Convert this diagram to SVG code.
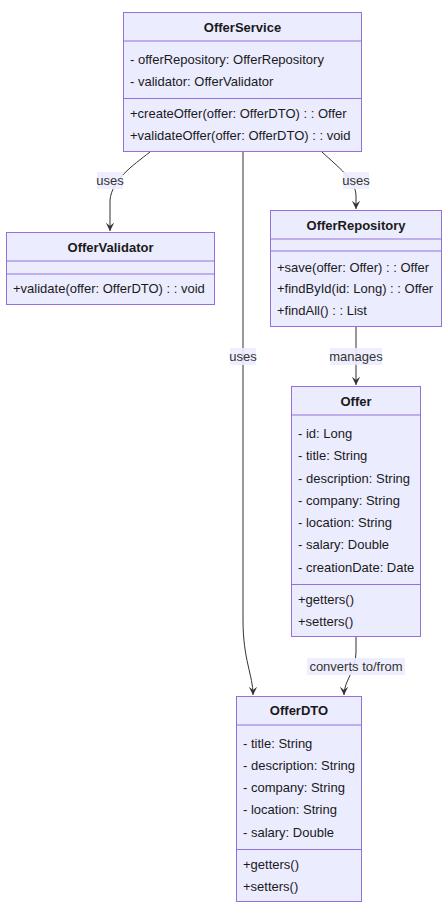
<svg xmlns="http://www.w3.org/2000/svg" width="447" height="909" viewBox="0 0 447 909">
<style>
.box{fill:#ECECFF;stroke:#9370DB;stroke-width:1}
.div{stroke:#9370DB;stroke-width:1}
.t{font-family:"Liberation Sans",Arial,sans-serif;font-size:13px;fill:#1a1a1a}
.title{font-weight:bold;text-anchor:middle}
.edge{fill:none;stroke:#333;stroke-width:1}
.lbg{fill:#ECECFF;opacity:0.9}
.lt{font-family:"Liberation Sans",Arial,sans-serif;font-size:13px;fill:#333;text-anchor:middle}
</style>
<defs>
<marker id="arr" viewBox="0 0 12 12" refX="11" refY="6" markerWidth="10" markerHeight="10" markerUnits="userSpaceOnUse" orient="auto">
<path d="M1,1 L11,6 L1,11 L5,6 Z" fill="#333"/>
</marker>
</defs>
<rect width="447" height="909" fill="#fff"/>
<g id="connectors">
<path class="edge" d="M150,152 C132,166 112,180 110,200 L110,231" marker-end="url(#arr)"/>
<path class="edge" d="M322,152 C338,167 356,180 356,196 L356,209" marker-end="url(#arr)"/>
<path class="edge" d="M243,152 L243,620 C243,660 253,675 253,695" marker-end="url(#arr)"/>
<path class="edge" d="M356,327 L356,385" marker-end="url(#arr)"/>
<path class="edge" d="M356,637 L356,652 C356,672 344,680 344,695" marker-end="url(#arr)"/>
<rect class="lbg" x="97" y="172" width="26" height="17"/>
<text class="lt" x="110" y="185">uses</text>
<rect class="lbg" x="343" y="172" width="26" height="17"/>
<text class="lt" x="356" y="185">uses</text>
<rect class="lbg" x="230" y="348" width="26" height="17"/>
<text class="lt" x="243" y="361">uses</text>
<rect class="lbg" x="330" y="348" width="52" height="17"/>
<text class="lt" x="356" y="361">manages</text>
<rect class="lbg" x="307" y="658" width="98" height="17"/>
<text class="lt" x="356" y="671">converts to/from</text>
</g>
<g id="OfferService">
<rect class="box" x="123.5" y="12.5" width="238" height="139"/>
<line class="div" x1="123.5" y1="41" x2="361.5" y2="41"/>
<line class="div" x1="123.5" y1="98.5" x2="361.5" y2="98.5"/>
<text class="t title" x="242.5" y="32">OfferService</text>
<text class="t" x="130" y="64">- offerRepository: OfferRepository</text>
<text class="t" x="130" y="86">- validator: OfferValidator</text>
<text class="t" x="130" y="118">+createOffer(offer: OfferDTO) : : Offer</text>
<text class="t" x="130" y="140">+validateOffer(offer: OfferDTO) : : void</text>
</g>
<g id="OfferValidator">
<rect class="box" x="6.5" y="232.5" width="208" height="72"/>
<line class="div" x1="6.5" y1="261" x2="214.5" y2="261"/>
<line class="div" x1="6.5" y1="274" x2="214.5" y2="274"/>
<text class="t title" x="110.5" y="252">OfferValidator</text>
<text class="t" x="13" y="293">+validate(offer: OfferDTO) : : void</text>
</g>
<g id="OfferRepository">
<rect class="box" x="270.5" y="210.5" width="171" height="116"/>
<line class="div" x1="270.5" y1="239" x2="441.5" y2="239"/>
<line class="div" x1="270.5" y1="251" x2="441.5" y2="251"/>
<text class="t title" x="356" y="230">OfferRepository</text>
<text class="t" x="277" y="272">+save(offer: Offer) : : Offer</text>
<text class="t" x="277" y="293">+findById(id: Long) : : Offer</text>
<text class="t" x="277" y="315">+findAll() : : List</text>
</g>
<g id="Offer">
<rect class="box" x="291.5" y="386.5" width="129" height="250"/>
<line class="div" x1="291.5" y1="415" x2="420.5" y2="415"/>
<line class="div" x1="291.5" y1="584.5" x2="420.5" y2="584.5"/>
<text class="t title" x="356" y="406">Offer</text>
<text class="t" x="298" y="438">- id: Long</text>
<text class="t" x="298" y="460">- title: String</text>
<text class="t" x="298" y="483">- description: String</text>
<text class="t" x="298" y="505">- company: String</text>
<text class="t" x="298" y="527">- location: String</text>
<text class="t" x="298" y="549">- salary: Double</text>
<text class="t" x="298" y="572">- creationDate: Date</text>
<text class="t" x="298" y="604">+getters()</text>
<text class="t" x="298" y="626">+setters()</text>
</g>
<g id="OfferDTO">
<rect class="box" x="236.5" y="696.5" width="125" height="205"/>
<line class="div" x1="236.5" y1="725" x2="361.5" y2="725"/>
<line class="div" x1="236.5" y1="849.5" x2="361.5" y2="849.5"/>
<text class="t title" x="299" y="715">OfferDTO</text>
<text class="t" x="243" y="748">- title: String</text>
<text class="t" x="243" y="770">- description: String</text>
<text class="t" x="243" y="792">- company: String</text>
<text class="t" x="243" y="814">- location: String</text>
<text class="t" x="243" y="837">- salary: Double</text>
<text class="t" x="243" y="869">+getters()</text>
<text class="t" x="243" y="891">+setters()</text>
</g>
</svg>
